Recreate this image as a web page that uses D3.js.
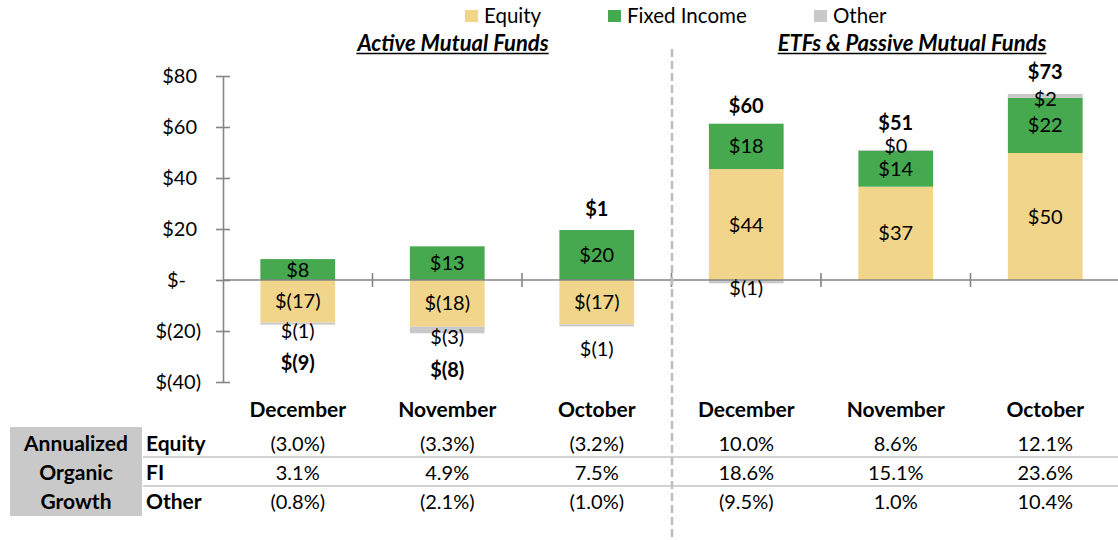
<!DOCTYPE html>
<html>
<head>
<meta charset="utf-8">
<script src="https://cdn.jsdelivr.net/npm/d3@7"></script>
<style>
  html, body { margin: 0; padding: 0; background: #fff; }
  svg { display: block; font-family: Lato, "Open Sans", sans-serif; }
</style>
</head>
<body>
<svg id="chart" width="1118" height="540"></svg>
<script>
// ---- data ----
const categories = ["December", "November", "October", "December", "November", "October"];
const groupTitles = ["Active Mutual Funds", "ETFs & Passive Mutual Funds"];
const seriesNames = ["Equity", "Fixed Income", "Other"];
const equity = [-16.7, -18.3, -17.4, 43.5, 36.6, 49.8];
const fixedIncome = [8.2, 13.2, 19.6, 17.8, 14.0, 21.6];
const other = [-0.8, -2.6, -0.8, -1.3, 0.4, 1.6];
const yTicks = [-40, -20, 0, 20, 40, 60, 80];
const growthRowLabels = ["Equity", "FI", "Other"];
const growthBoxLabels = ["Annualized", "Organic", "Growth"];
const equityGrowth = [-3.0, -3.3, -3.2, 10.0, 8.6, 12.1];
const fiGrowth = [3.1, 4.9, 7.5, 18.6, 15.1, 23.6];
const otherGrowth = [-0.8, -2.1, -1.0, -9.5, 1.0, 10.4];

// ---- label nudges (layout only) ----
const otherLabelNudge = [7, 7, 24, 6, -4, 3];
const totalLabelNudge = [1, 0, 0, 3, -6, -1];

const colors = { equity: "#F0D58A", fi: "#46A84F", other: "#C9C9C9" };
const axisColor = "#858585";
const fs = 20;

const svg = d3.select("#chart");

const rows = categories.map((c, i) => ({ i, equity: equity[i], fi: fixedIncome[i], other: other[i] }));
const keys = ["equity", "fi", "other"];
const stack = d3.stack().keys(keys).offset(d3.stackOffsetDiverging);
const stacked = stack(rows);

const x = d3.scaleBand().domain(d3.range(categories.length)).range([223, 1120])
  .paddingInner(0.5).paddingOuter(0.25);
const y = d3.scaleLinear().domain([-40, 80]).range([382, 76]);

const money = v => { const r = Math.round(v); return r < 0 ? `$(${-r})` : `$${r}`; };
const pct = v => v < 0 ? `(${(-v).toFixed(1)}%)` : `${v.toFixed(1)}%`;

// ---- bars ----
const gBars = svg.append("g");
stacked.forEach(layer => {
  gBars.selectAll(null).data(layer).enter().append("rect")
    .attr("x", d => x(d.data.i))
    .attr("width", x.bandwidth())
    .attr("y", d => y(Math.max(d[0], d[1])))
    .attr("height", d => Math.abs(y(d[0]) - y(d[1])))
    .attr("fill", colors[layer.key]);
});

// ---- y axis ----
const yAxis = d3.axisLeft(y).tickValues(yTicks).tickSize(0).tickPadding(0)
  .tickFormat(v => v === 0 ? "$-" : (v < 0 ? `$(${-v})` : `$${v}`));
const gy = svg.append("g").attr("transform", "translate(223,0)").call(yAxis);
gy.select(".domain").attr("stroke", axisColor).attr("stroke-width", 1.6);
gy.selectAll(".tick line").remove();
gy.selectAll(".tick").append("line").attr("x1", -7).attr("x2", 7)
  .attr("stroke", axisColor).attr("stroke-width", 1.6);
gy.selectAll(".tick text")
  .attr("x", d => d === 0 ? -37 : (d < 0 ? -22 : -26))
  .attr("font-size", fs).attr("fill", "#000")
  .attr("font-family", "Lato, sans-serif");

// ---- x axis (zero line) ----
svg.append("line").attr("x1", 223).attr("x2", 1118).attr("y1", y(0)).attr("y2", y(0))
  .attr("stroke", axisColor).attr("stroke-width", 1.6);
const step = x.step();
d3.range(1, categories.length).forEach(k => {
  const xb = x(k) - (step - x.bandwidth()) / 2;
  svg.append("line").attr("x1", xb).attr("x2", xb).attr("y1", y(0) - 7).attr("y2", y(0) + 7)
    .attr("stroke", axisColor).attr("stroke-width", 1.6);
});

// ---- segment labels ----
const cx = i => x(i) + x.bandwidth() / 2;
const gLab = svg.append("g").attr("font-size", fs).attr("text-anchor", "middle").attr("fill", "#000");
stacked.forEach(layer => {
  layer.forEach(d => {
    const i = d.data.i;
    let yc = (y(d[0]) + y(d[1])) / 2;
    if (layer.key === "other") yc += otherLabelNudge[i];
    gLab.append("text").attr("x", cx(i)).attr("y", yc).attr("dy", "0.35em")
      .text(money(d.data[layer.key]));
  });
});

// ---- totals ----
rows.forEach(r => {
  const tot = r.equity + r.fi + r.other;
  const top = d3.max(stacked, l => l[r.i][1]);
  const bot = d3.min(stacked, l => l[r.i][0]);
  const yy = tot >= 0 ? y(top) - 21 : y(bot) + 37;
  svg.append("text").attr("x", cx(r.i)).attr("y", yy + totalLabelNudge[r.i]).attr("dy", "0.35em")
    .attr("text-anchor", "middle").attr("font-size", fs).attr("font-weight", "bold")
    .text(money(tot));
});

// ---- legend ----
const legendX = [465, 608, 814];
const legendColors = [colors.equity, colors.fi, colors.other];
seriesNames.forEach((n, k) => {
  svg.append("rect").attr("x", legendX[k]).attr("y", 10).attr("width", 13).attr("height", 12)
    .attr("fill", legendColors[k]);
  svg.append("text").attr("x", legendX[k] + 19).attr("y", 16).attr("dy", "0.35em")
    .attr("font-size", 20.5).text(n);
});

// ---- group titles ----
const titleCenters = [453, 912];
groupTitles.forEach((t, k) => {
  const tx = svg.append("text").attr("x", titleCenters[k]).attr("y", 43).attr("dy", "0.35em")
    .attr("text-anchor", "middle").attr("font-size", 22).attr("font-weight", "bold")
    .attr("font-style", "italic").text(t);
  const bb = tx.node().getBBox();
  svg.append("line").attr("x1", bb.x).attr("x2", bb.x + bb.width).attr("y1", 53.5).attr("y2", 53.5)
    .attr("stroke", "#000").attr("stroke-width", 1.4);
});

// ---- divider ----
svg.append("line").attr("x1", 672).attr("x2", 672).attr("y1", 49).attr("y2", 540)
  .attr("stroke", "#BDBDBD").attr("stroke-width", 2.5).attr("stroke-dasharray", "8,4");

// ---- category labels ----
categories.forEach((c, i) => {
  svg.append("text").attr("x", cx(i)).attr("y", 410).attr("dy", "0.35em")
    .attr("text-anchor", "middle").attr("font-size", 21).attr("font-weight", "bold").text(c);
});

// ---- growth table ----
svg.append("rect").attr("x", 10).attr("y", 427).attr("width", 132).attr("height", 89).attr("fill", "#C9C9C9");
const rowY = [444, 473, 502];
growthBoxLabels.forEach((t, k) => {
  svg.append("text").attr("x", 76).attr("y", rowY[k]).attr("dy", "0.35em").attr("text-anchor", "middle")
    .attr("font-size", 21).attr("font-weight", "bold").text(t);
});
growthRowLabels.forEach((t, k) => {
  svg.append("text").attr("x", 146).attr("y", rowY[k]).attr("dy", "0.35em")
    .attr("font-size", 21).attr("font-weight", "bold").text(t);
});
[457, 486].forEach(ly => {
  svg.append("line").attr("x1", 143).attr("x2", 1118).attr("y1", ly).attr("y2", ly)
    .attr("stroke", "#C4C4C4").attr("stroke-width", 1.5);
});
[equityGrowth, fiGrowth, otherGrowth].forEach((arr, k) => {
  arr.forEach((v, i) => {
    svg.append("text").attr("x", cx(i)).attr("y", rowY[k]).attr("dy", "0.35em").attr("text-anchor", "middle")
      .attr("font-size", fs).text(pct(v));
  });
});
</script>
</body>
</html>
